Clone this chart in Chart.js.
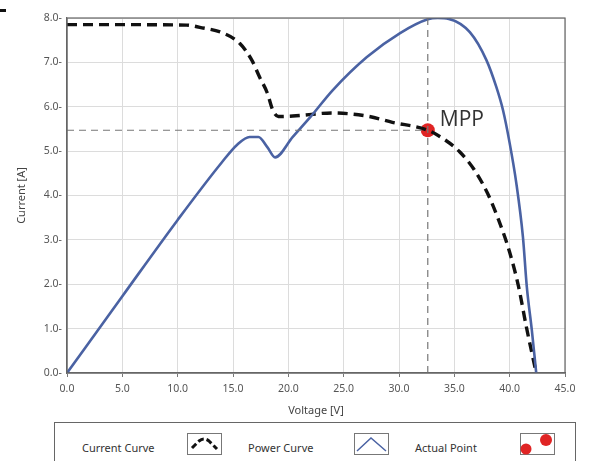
<!DOCTYPE html>
<html>
<head>
<meta charset="utf-8">
<script src="https://cdn.jsdelivr.net/npm/chart.js@4.4.1/dist/chart.umd.min.js"></script>
<style>
  body { margin: 0; background: #fff; font-family: "Noto Sans", sans-serif; }
  #wrap { position: relative; width: 589px; height: 461px; overflow: hidden; background: #fff; }
  #chartBox { position: absolute; left: 0; top: 0; width: 589px; height: 420px; }
  #legend { position: absolute; left: 54px; top: 422px; width: 522px; height: 60px;
            border: 1px solid #666; box-sizing: border-box; background: #fff; }
  .item { position: absolute; top: 17px; font-size: 11px; color: #333; }
  .icon { position: absolute; top: 10px; }
  .mark { position: absolute; background: #111; }
</style>
</head>
<body>
<div id="wrap">
  <div class="mark" style="left:0;top:9px;width:6px;height:3px;"></div>
  <div id="chartBox"><canvas id="pv"></canvas></div>
  <div id="legend">
    <span class="item" style="left:27px;">Current Curve</span>
    <svg class="icon" style="left:132px;" width="35" height="22">
      <rect x="0.5" y="0.5" width="34" height="21" fill="#fff" stroke="#777"/>
      <path d="M5 15 L12 8 Q17 4 22 8 L30 16" fill="none" stroke="#111" stroke-width="3" stroke-dasharray="6 3"/>
    </svg>
    <span class="item" style="left:193px;">Power Curve</span>
    <svg class="icon" style="left:299px;" width="35" height="22">
      <rect x="0.5" y="0.5" width="34" height="21" fill="#fff" stroke="#777"/>
      <path d="M3 18 L17 5 L32 18" fill="none" stroke="#4a62a3" stroke-width="1.5"/>
    </svg>
    <span class="item" style="left:360px;">Actual Point</span>
    <svg class="icon" style="left:465px;" width="35" height="22">
      <rect x="0.5" y="0.5" width="34" height="21" fill="#fff" stroke="#777"/>
      <circle cx="6" cy="16" r="5.5" fill="#e02424"/>
      <circle cx="26" cy="7" r="6" fill="#e02424"/>
    </svg>
  </div>
</div>
<script>
// current curve (dashed)
const currentV = [0, 5, 10.8, 12.0, 14.1, 15.6, 16.7, 17.4, 18.1, 18.6, 19.1, 20.4, 24.0, 27.1, 29.4, 32.6, 34.0, 35.5, 36.8, 38.0, 39.0, 40.0, 40.8, 41.5, 42.4];
const currentA = [7.85, 7.85, 7.84, 7.79, 7.66, 7.43, 7.05, 6.67, 6.31, 5.92, 5.78, 5.79, 5.86, 5.79, 5.65, 5.47, 5.28, 4.98, 4.58, 4.05, 3.45, 2.72, 1.95, 1.05, 0];

// power curve (scaled onto the current axis)
const powerV = [0, 5, 10, 14.0, 15.4, 16.5, 17.3, 18.1, 18.8, 20.4, 22.0, 24.0, 27.1, 30.1, 32.6, 33.5, 34.5, 36.4, 37.9, 38.8, 39.4, 40.0, 40.6, 41.2, 41.55, 42.0, 42.4];
const powerA = [0, 1.73, 3.45, 4.75, 5.15, 5.32, 5.32, 5.09, 4.86, 5.32, 5.77, 6.37, 7.12, 7.66, 7.97, 8.0, 7.98, 7.68, 7.05, 6.44, 5.92, 5.18, 4.28, 3.06, 1.94, 0.97, 0];

// maximum power point
const mppV = 32.6;
const mppA = 5.47;
const mppLabel = 'MPP';

const xTicks = [0, 5, 10, 15, 20, 25, 30, 35, 40, 45];
const yTicks = [0, 1, 2, 3, 4, 5, 6, 7, 8];

const toPoints = (xs, ys) => xs.map((x, i) => ({ x: x, y: ys[i] }));

const frame = {
    id: 'frame',
    afterDraw(chart) {
        const { ctx, chartArea: a, scales } = chart;
        ctx.save();
        ctx.strokeStyle = '#666';
        ctx.lineWidth = 1.2;
        ctx.strokeRect(a.left, a.top, a.right - a.left, a.bottom - a.top);
        ctx.fillStyle = '#333';
        ctx.font = '21px "Open Sans", sans-serif';
        ctx.textBaseline = 'middle';
        ctx.fillText(mppLabel, scales.x.getPixelForValue(mppV) + 12, scales.y.getPixelForValue(mppA) - 10);
        ctx.restore();
    }
};

new Chart(document.getElementById('pv'), {
    type: 'scatter',
    data: {
        datasets: [
            {
                data: toPoints([0, mppV], [mppA, mppA]),
                showLine: true, borderColor: '#777', borderWidth: 1.2, borderDash: [7, 5],
                pointRadius: 0
            },
            {
                data: toPoints([mppV, mppV], [0, 8]),
                showLine: true, borderColor: '#777', borderWidth: 1.2, borderDash: [7, 5],
                pointRadius: 0
            },
            {
                label: 'Power Curve',
                data: toPoints(powerV, powerA),
                showLine: true, borderColor: '#4a62a3', borderWidth: 2.6,
                cubicInterpolationMode: 'monotone', pointRadius: 0
            },
            {
                label: 'Current Curve',
                data: toPoints(currentV, currentA),
                showLine: true, borderColor: '#111', borderWidth: 3.4, borderDash: [10, 6],
                cubicInterpolationMode: 'monotone', pointRadius: 0
            },
            {
                label: 'Actual Point',
                data: [{ x: mppV, y: mppA }],
                pointRadius: 7, pointBackgroundColor: '#e02424', pointBorderWidth: 0
            }
        ]
    },
    options: {
        responsive: true,
        maintainAspectRatio: false,
        animation: false,
        layout: { padding: { left: 0, right: 24, top: 18, bottom: 0 } },
        plugins: { legend: { display: false }, tooltip: { enabled: false } },
        scales: {
            x: {
                type: 'linear', min: 0, max: 45,
                afterBuildTicks: (s) => { s.ticks = xTicks.map(v => ({ value: v })); },
                afterFit: (s) => { s.height = 47; },
                grid: { color: '#dcdcdc', tickColor: '#777', tickLength: 4 },
                border: { color: '#666', width: 1.2 },
                ticks: {
                    padding: 6, color: '#555', font: { family: 'Noto Sans', size: 10.5 },
                    callback: (v) => v.toFixed(1), maxRotation: 0
                },
                title: {
                    display: true, text: 'Voltage [V]', color: '#444',
                    font: { family: 'Noto Sans', size: 11 }, padding: { top: 0, bottom: 3 }
                }
            },
            y: {
                type: 'linear', min: 0, max: 8,
                afterBuildTicks: (s) => { s.ticks = yTicks.map(v => ({ value: v })); },
                afterFit: (s) => { s.width = 67; },
                grid: { color: '#dcdcdc', drawTicks: false },
                border: { color: '#666', width: 1.2 },
                ticks: {
                    padding: 5, color: '#555', font: { family: 'Noto Sans', size: 10.5 },
                    callback: (v) => v.toFixed(1) + '-'
                },
                title: {
                    display: true, text: 'Current [A]', color: '#444',
                    font: { family: 'Noto Sans', size: 11 }, padding: { top: 15, bottom: 0 }
                }
            }
        }
    },
    plugins: [frame]
});
</script>
</body>
</html>
